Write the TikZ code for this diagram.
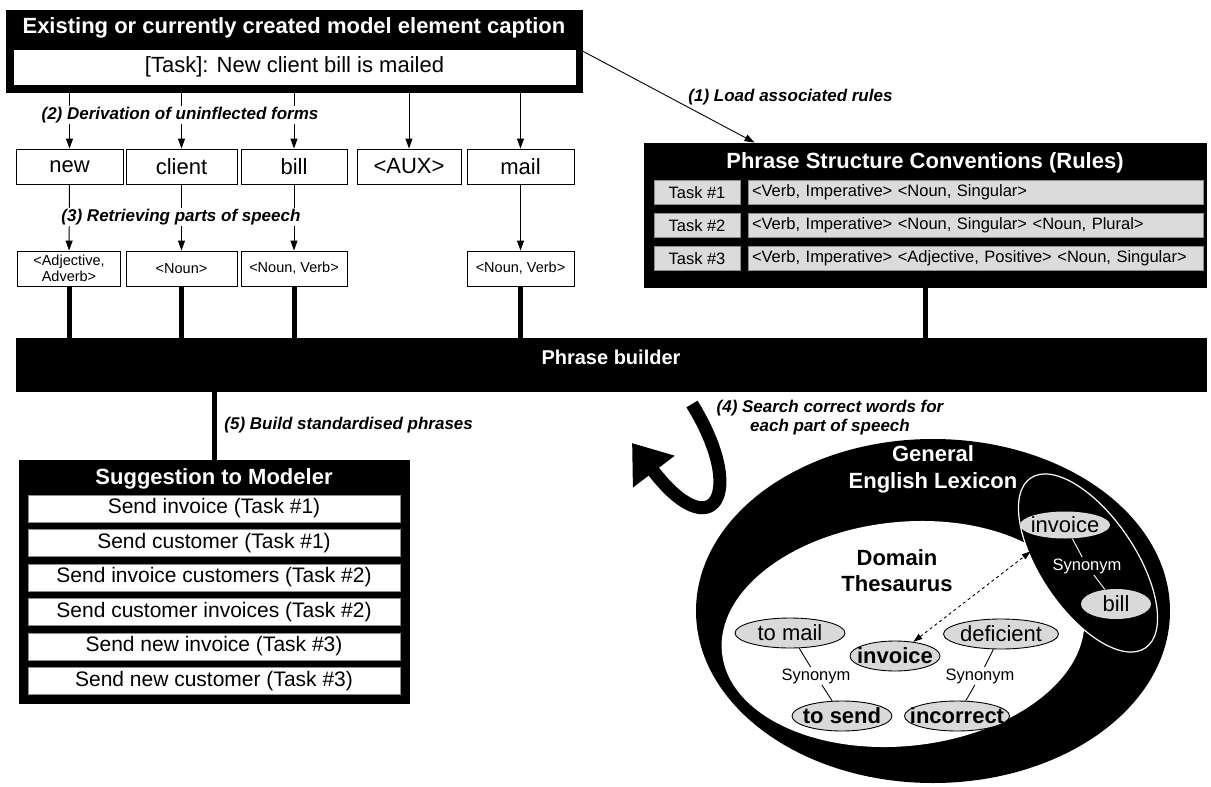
\documentclass[tikz,border=0pt]{standalone}
\usepackage{fontspec}
\setmainfont{Liberation Sans}
\usetikzlibrary{shapes.geometric,arrows.meta}

\newcommand{\fsz}[1]{\fontsize{#1}{#1}\selectfont}
\newcommand{\tightlabel}[1]{\smash{\makebox[0pt]{\raisebox{-0.36em}{#1}}}}

\tikzstyle{blackbox} = [rectangle, draw=black, fill=black, inner sep=0pt]
\tikzstyle{whitebox} = [rectangle, draw=black, fill=white, inner sep=0pt, text centered, font=\fsz{22}]
\tikzstyle{posbox} = [rectangle, draw=black, fill=white, inner sep=0pt, minimum height=35pt, align=center, font=\fontsize{14.5}{16}\selectfont]
\tikzstyle{rowbox} = [rectangle, draw=black!45, fill=black!14, inner sep=0pt, minimum height=24pt, font=\fsz{16.5}]
\tikzstyle{suggbox} = [rectangle, draw=black!45, fill=white, inner sep=0pt, minimum width=372pt, minimum height=27pt, font=\fsz{21}]
\tikzstyle{heading} = [text=white, inner sep=0pt, font=\bfseries\fsz{22}]
\tikzstyle{steplabel} = [fill=white, inner sep=1pt, font=\bfseries\itshape\fsz{17}]
\tikzstyle{term} = [ellipse, draw=black, fill=black!15, inner sep=0pt, minimum height=30pt, font=\fsz{22}]
\tikzstyle{syn} = [inner sep=1pt, font=\fsz{16.5}]
\tikzstyle{arrow} = [-{Triangle[length=10pt,width=7pt]}]
\tikzstyle{bar} = [line width=5pt]

\begin{document}
\begin{tikzpicture}[x=1pt,y=-1pt,line width=0.9pt]
\useasboundingbox (0,0) rectangle (1211,787);

\node (caption) [blackbox, minimum width=576pt, minimum height=82pt] at (294,51) {};
\node (captiontitle) [heading] at (294,28) {Existing or currently created model element caption};
\node (task) [whitebox, minimum width=563pt, minimum height=36pt] at (294.5,67) {[Task]: New client bill is mailed};

\node (new) [whitebox, minimum width=107pt, minimum height=35pt] at (69.5,166.5) {new};
\node (client) [whitebox, minimum width=111pt, minimum height=35pt] at (181.5,166.5) {client};
\node (bill) [whitebox, minimum width=106pt, minimum height=35pt] at (294,166.5) {bill};
\node (aux) [whitebox, minimum width=104pt, minimum height=35pt] at (409,166.5) {<AUX>};
\node (mail) [whitebox, minimum width=107pt, minimum height=35pt] at (520.5,166.5) {mail};

\node (newpos) [posbox, minimum width=103pt] at (69,268.5) {<Adjective,\\Adverb>};
\node (clientpos) [posbox, minimum width=111pt] at (181.5,268.5) {<Noun>};
\node (billpos) [posbox, minimum width=106pt] at (294,268.5) {<Noun, Verb>};
\node (mailpos) [posbox, minimum width=107pt] at (520.5,268.5) {<Noun, Verb>};

\node (builder) [blackbox, minimum width=1190pt, minimum height=53pt] at (611,364.5) {};
\node (buildertitle) [heading, font=\bfseries\fsz{20}] at (611,357) {Phrase builder};

\node (rules) [blackbox, minimum width=562pt, minimum height=144pt] at (925,215) {};
\node (rulestitle) [heading] at (925,163) {Phrase Structure Conventions (Rules)};
\node (task1) [rowbox, minimum width=86pt] at (697,192.5) {Task \#1};
\node (rule1) [rowbox, text width=447pt, inner xsep=4pt, align=left] at (975.5,192.5) {<Verb, Imperative> <Noun, Singular>};
\node (task2) [rowbox, minimum width=86pt] at (697,225.5) {Task \#2};
\node (rule2) [rowbox, text width=447pt, inner xsep=4pt, align=left] at (975.5,225.5) {<Verb, Imperative> <Noun, Singular> <Noun, Plural>};
\node (task3) [rowbox, minimum width=86pt] at (697,258.5) {Task \#3};
\node (rule3) [rowbox, text width=447pt, inner xsep=4pt, align=left] at (975.5,258.5) {<Verb, Imperative> <Adjective, Positive> <Noun, Singular>};

\node (suggest) [blackbox, minimum width=390pt, minimum height=243pt] at (214,581.5) {};
\node (suggesttitle) [heading] at (214,479) {Suggestion to Modeler};
\node (sugg1) [suggbox] at (214,508.5) {Send invoice (Task \#1)};
\node (sugg2) [suggbox] at (214,543) {Send customer (Task \#1)};
\node (sugg3) [suggbox] at (214,577.5) {Send invoice customers (Task \#2)};
\node (sugg4) [suggbox] at (214,612) {Send customer invoices (Task \#2)};
\node (sugg5) [suggbox] at (214,646.5) {Send new invoice (Task \#3)};
\node (sugg6) [suggbox] at (214,681) {Send new customer (Task \#3)};

\node (lexicon) [ellipse, fill=black, minimum width=474pt, minimum height=344pt] at (933,611) {};
\node (lexicontitle) [heading, align=center, font=\bfseries\fontsize{22}{27}\selectfont] at (933,469) {General\\English Lexicon};
\node (thesaurus) [ellipse, fill=white, minimum width=364pt, minimum height=224pt, rotate=6] at (903,634) {};
\node (thesaurustitle) [align=center, inner sep=0pt, font=\bfseries\fontsize{22}{26}\selectfont] at (897,571) {Domain\\Thesaurus};
\node (lexgroup) [ellipse, draw=white, fill=black, line width=1.2pt, minimum width=205pt, minimum height=95pt, rotate=-56] at (1088,563) {};

\node (lexinvoice) [term, draw=none, minimum width=90pt, minimum height=27pt] at (1065,525) {\tightlabel{invoice}};
\node (lexsyn) [syn, text=white] at (1087,566) {Synonym};
\node (lexbill) [term, draw=none, minimum width=70pt] at (1116,604) {\tightlabel{bill}};

\node (tomail) [term, minimum width=110pt] at (790,633) {\tightlabel{to mail}};
\node (invoice) [term, font=\bfseries\fsz{22}, minimum width=90pt] at (895,656) {\tightlabel{invoice}};
\node (deficient) [term, minimum width=115pt] at (1001,634) {\tightlabel{deficient}};
\node (synleft) [syn] at (816,676) {Synonym};
\node (synright) [syn] at (980,676) {Synonym};
\node (tosend) [term, font=\bfseries\fsz{22}, minimum width=100pt] at (842,716) {\tightlabel{to send}};
\node (incorrect) [term, font=\bfseries\fsz{22}, minimum width=105pt] at (957,716) {\tightlabel{incorrect}};

\draw [arrow] (new |- task.south) -- (new);
\draw [arrow] (client |- task.south) -- (client);
\draw [arrow] (bill |- task.south) -- (bill);
\draw [arrow] (aux |- task.south) -- (aux);
\draw [arrow] (mail |- task.south) -- (mail);
\draw [arrow] (new) -- (newpos);
\draw [arrow] (client) -- (clientpos);
\draw [arrow] (bill) -- (billpos);
\draw [arrow] (mail) -- (mailpos);
\draw [bar] (newpos) -- (newpos |- builder.north);
\draw [bar] (clientpos) -- (clientpos |- builder.north);
\draw [bar] (billpos) -- (billpos |- builder.north);
\draw [bar] (mailpos) -- (mailpos |- builder.north);
\draw [bar] (rules) -- (rules |- builder.north);
\draw [bar] (suggest |- builder.south) -- (suggest);
\draw [arrow] (caption.east) -- ([xshift=111pt]rules.north west);

\draw [white] (lexinvoice) -- (lexsyn);
\draw [white] (lexsyn) -- (lexbill);
\draw (tomail) -- (synleft);
\draw (synleft) -- (tosend);
\draw (deficient) -- (synright);
\draw (synright) -- (incorrect);
\draw [dashed, shorten >=22pt, {Triangle[length=9pt,width=6pt]}-{Triangle[length=9pt,width=6pt]}] (invoice) -- (lexinvoice);

\draw [line width=13pt, -{Triangle[length=36pt,width=50pt]}] (692,404) .. controls (748,495) and (712,548) .. (632,443);

\node (derive) [steplabel] at (180,115) {(2) Derivation of uninflected forms};
\node (retrieve) [steplabel] at (181,217) {(3) Retrieving parts of speech};
\node (load) [steplabel, anchor=west] at (687,97) {(1) Load associated rules};
\node (search) [steplabel, align=center, font=\bfseries\itshape\fontsize{17}{19}\selectfont] at (830,418) {(4) Search correct words for\\each part of speech};
\node (build) [steplabel, anchor=west] at (223,425) {(5) Build standardised phrases};

\end{tikzpicture}
\end{document}
